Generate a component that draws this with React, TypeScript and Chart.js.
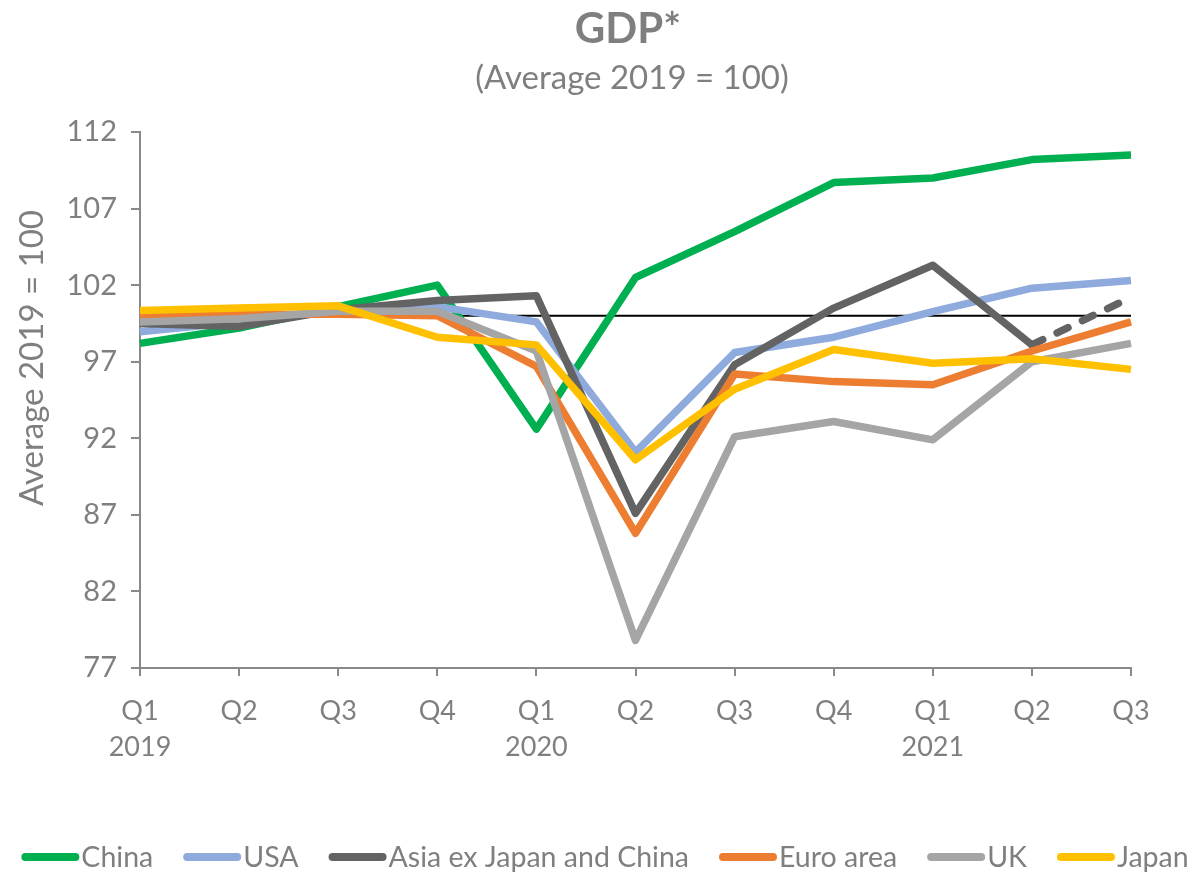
import React, { useEffect, useRef } from "react";
import { Chart, registerables } from "chart.js";

Chart.register(...registerables);

const quarters = ["Q1", "Q2", "Q3", "Q4", "Q1", "Q2", "Q3", "Q4", "Q1", "Q2", "Q3"];
const years = ["2019", "", "", "", "2020", "", "", "", "2021", "", ""];

const china = [98.2, 99.2, 100.6, 102.0, 92.6, 102.5, 105.5, 108.7, 109.0, 110.2, 110.5];
const usa = [98.95, 99.6, 100.4, 100.6, 99.6, 91.1, 97.6, 98.6, 100.27, 101.8, 102.3];
const asiaExJC = [99.5, 99.3, 100.4, 101.0, 101.3, 87.1, 96.8, 100.5, 103.3, 98.1, 101.2];
const euroArea = [100.05, 100.1, 100.1, 100.0, 96.7, 85.8, 96.2, 95.7, 95.5, 97.7, 99.6];
const uk = [99.6, 99.8, 100.3, 100.3, 97.7, 78.8, 92.1, 93.1, 91.9, 97.0, 98.2];
const japan = [100.35, 100.5, 100.65, 98.6, 98.1, 90.6, 95.2, 97.8, 96.9, 97.2, 96.5];
const baseline = [100, 100, 100, 100, 100, 100, 100, 100, 100, 100, 100];

const seriesNames = ["China", "USA", "Asia ex Japan and China", "Euro area", "UK", "Japan"];
const seriesColors = ["#00B050", "#8FAADC", "#636363", "#ED7D31", "#A5A5A5", "#FFC000"];
const seriesValues = [china, usa, asiaExJC, euroArea, uk, japan];

const yTicks = [77, 82, 87, 92, 97, 102, 107, 112];

const titleText = "GDP*";
const subtitleText = "(Average 2019 = 100)";
const yTitleText = "Average 2019 = 100";

const FONT = "Lato, 'Open Sans', sans-serif";
const GREY = "#7F7F7F";

export default function App() {
  const canvasRef = useRef<HTMLCanvasElement | null>(null);

  useEffect(() => {
    document.body.style.margin = "0";
    const canvas = canvasRef.current;
    if (!canvas) return;

    const labels = quarters.map((q, i) => [q, years[i]]);

    const datasets: any[] = seriesValues.map((vals, i) => ({
      label: seriesNames[i],
      data: vals,
      borderColor: seriesColors[i],
      backgroundColor: seriesColors[i],
      borderWidth: 7.5,
      pointRadius: 0,
      tension: 0,
      borderJoinStyle: "round",
      borderCapStyle: "butt",
      order: 6 - i,
      segment:
        i === 2
          ? {
              borderDash: (ctx: any) => (ctx.p0DataIndex === 9 ? [12, 16] : undefined),
              borderCapStyle: (ctx: any) => (ctx.p0DataIndex === 9 ? "round" : undefined),
            }
          : undefined,
    }));
    datasets.push({
      label: "base",
      data: baseline,
      borderColor: "#000000",
      borderWidth: 2,
      pointRadius: 0,
      order: 10,
    });

    const overlay = {
      id: "overlay",
      afterDraw(chart: any) {
        const ctx = chart.ctx;
        ctx.save();
        ctx.fillStyle = GREY;
        ctx.textAlign = "center";
        ctx.textBaseline = "middle";
        ctx.font = `bold 42px ${FONT}`;
        ctx.fillText(titleText, 628, 29);
        ctx.font = `33px ${FONT}`;
        ctx.fillText(subtitleText, 632, 78);

        ctx.save();
        ctx.translate(32, 358);
        ctx.rotate(-Math.PI / 2);
        ctx.font = `33px ${FONT}`;
        ctx.fillText(yTitleText, 0, 0);
        ctx.restore();

        // legend
        ctx.font = `28.5px ${FONT}`;
        const lineW = 58;
        const gapText = 2;
        const gapItem = 30;
        const widths = seriesNames.map((n) => lineW + gapText + ctx.measureText(n).width);
        const total = widths.reduce((a, b) => a + b, 0) + gapItem * (seriesNames.length - 1);
        let x = 605 - total / 2;
        const y = 857;
        ctx.textAlign = "left";
        seriesNames.forEach((n, i) => {
          ctx.strokeStyle = seriesColors[i];
          ctx.lineWidth = 8;
          ctx.lineCap = "round";
          ctx.beginPath();
          ctx.moveTo(x + 4, y);
          ctx.lineTo(x + lineW - 4, y);
          ctx.stroke();
          ctx.fillStyle = GREY;
          ctx.fillText(n, x + lineW + gapText, y + 1);
          x += widths[i] + gapItem;
        });
        ctx.restore();
      },
    };

    const chart = new Chart(canvas, {
      type: "line",
      data: { labels, datasets },
      options: {
        animation: false,
        responsive: false,
        layout: { padding: { top: 132, right: 61, left: 0, bottom: 0 } },
        plugins: {
          legend: { display: false },
          title: { display: false },
          tooltip: { enabled: false },
        },
        scales: {
          x: {
            type: "category",
            offset: false,
            grid: {
              drawOnChartArea: false,
              drawTicks: true,
              tickLength: 8,
              color: "#898989",
              lineWidth: 2,
            },
            border: { display: true, color: "#898989", width: 2 },
            ticks: {
              color: GREY,
              font: { family: FONT, size: 27, lineHeight: 1.33 },
              padding: 17,
              maxRotation: 0,
              autoSkip: false,
            },
            afterFit(scale: any) {
              scale.height = 205;
            },
          },
          y: {
            min: 77,
            max: 112,
            afterBuildTicks(scale: any) {
              scale.ticks = yTicks.map((v) => ({ value: v }));
            },
            grid: {
              drawOnChartArea: false,
              drawTicks: true,
              tickLength: 9,
              color: "#898989",
              lineWidth: 2,
            },
            border: { display: true, color: "#898989", width: 2 },
            ticks: {
              color: GREY,
              font: { family: FONT, size: 29 },
              padding: 14,
            },
            afterFit(scale: any) {
              scale.width = 140;
            },
          },
        },
      },
      plugins: [overlay],
    } as any);

    return () => chart.destroy();
  }, []);

  return (
    <div style={{ width: 1192, height: 873 }}>
      <canvas ref={canvasRef} width={1192} height={873} style={{ display: "block" }} />
    </div>
  );
}
